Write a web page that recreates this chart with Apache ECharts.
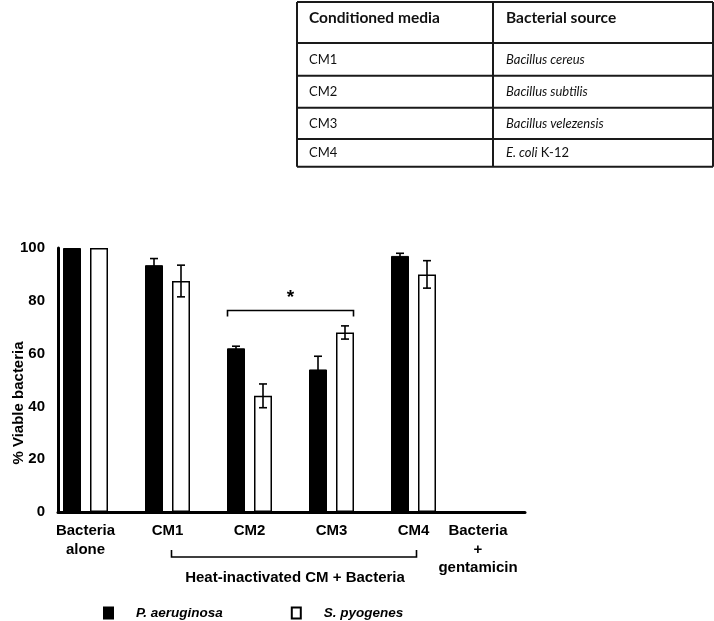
<!DOCTYPE html>
<html>
<head>
<meta charset="utf-8">
<script src="https://cdn.jsdelivr.net/npm/echarts@6/dist/echarts.min.js"></script>
<style>
  html, body { margin: 0; padding: 0; background: #fff; }
  #chart { width: 714px; height: 621px; }
</style>
</head>
<body>
<div id="chart"></div>
<script>
// data
const categories = ['Bacteria\nalone', 'CM1', 'CM2', 'CM3', 'CM4', 'Bacteria\n+\ngentamicin']
const seriesNames = ['P. aeruginosa', 'S. pyogenes']
const paMean = [100, 93.5, 62, 54, 97, 0]
const paErr = [0, 2.5, 0.8, 5, 1, 0]
const spMean = [100, 87.5, 44, 68, 90, 0]
const spErr = [0, 6, 4.5, 2.5, 5.2, 0]
const yTicks = [0, 20, 40, 60, 80, 100]

// significance between CM2 and CM3
const sigFrom = 2
const sigTo = 3
const sigLevel = 76.3
const sigMark = '*'

// table at the top
const tableHeader = ['Conditioned media', 'Bacterial source']
const cmNames = ['CM1', 'CM2', 'CM3', 'CM4']
const sources = ['Bacillus cereus', 'Bacillus subtilis', 'Bacillus velezensis', 'E. coli K-12']

const groupLabel = 'Heat-inactivated CM + Bacteria'

const FONT = "'Liberation Sans', Arial, sans-serif"
const TFONT = "Lato, 'Open Sans', sans-serif"

let chart = echarts.init(document.getElementById('chart'), null, {renderer: 'canvas'})

// table drawn with graphic elements
function buildTable() {
  const left = 297, right = 713, mid = 493
  const rows = [2, 43, 75.7, 107.7, 139, 166.7]
  const els = []
  const line = (x1, y1, x2, y2) => ({
    type: 'line', shape: {x1, y1, x2, y2},
    style: {stroke: '#1a1a1a', lineWidth: 2}
  })
  rows.forEach(y => els.push(line(left, y, right, y)))
  els.push(line(left, rows[0], left, rows[rows.length - 1]))
  els.push(line(right, rows[0], right, rows[rows.length - 1]))
  els.push(line(mid, rows[0], mid, rows[rows.length - 1]))

  els.push({type: 'text', x: 309, y: 18, style: {
    text: tableHeader[0], font: 'bold 15.5px ' + TFONT, fill: '#111', verticalAlign: 'middle'}})
  els.push({type: 'text', x: 506, y: 18, style: {
    text: tableHeader[1], font: 'bold 15.5px ' + TFONT, fill: '#111', verticalAlign: 'middle'}})

  cmNames.forEach((n, i) => {
    const cy = (rows[i + 1] + rows[i + 2]) / 2
    els.push({type: 'text', x: 309, y: cy, style: {
      text: n, font: '13px ' + TFONT, fill: '#111', verticalAlign: 'middle'}})
    let src = sources[i]
    let txt
    if (src.indexOf('K-12') >= 0) {
      txt = '{i|' + src.replace(' K-12', '') + '}{n| K-12}'
    } else {
      txt = '{i|' + src + '}'
    }
    const rich = {
      i: {fontFamily: TFONT, fontSize: 13, fontStyle: 'italic', fill: '#111'},
      n: {fontFamily: TFONT, fontSize: 13, fill: '#111'}
    }
    els.push({type: 'text', x: 506, y: cy, style: {
      text: txt, rich: rich, verticalAlign: 'middle'}})
  })
  return els
}

function errorSeries(name, means, errs, shift) {
  return {
    type: 'custom',
    name: name + ' err',
    xAxisIndex: 1,
    yAxisIndex: 1,
    z: 5,
    encode: {x: 0, y: 1},
    data: means.map((m, i) => [i, m, errs[i]]),
    renderItem: function (params, api) {
      const e = api.value(2)
      if (!e) return
      const i = api.value(0), m = api.value(1)
      const top = api.coord([i, m + e])
      const bot = api.coord([i, m - e])
      const x = top[0] + shift
      const st = {stroke: '#000', lineWidth: 1.6}
      return {
        type: 'group',
        children: [
          {type: 'line', shape: {x1: x, y1: top[1], x2: x, y2: bot[1]}, style: st},
          {type: 'line', shape: {x1: x - 4, y1: top[1], x2: x + 4, y2: top[1]}, style: st},
          {type: 'line', shape: {x1: x - 4, y1: bot[1], x2: x + 4, y2: bot[1]}, style: st}
        ]
      }
    }
  }
}

function initChart() {
  const option = {
    backgroundColor: '#fff',
    animation: false,
    graphic: buildTable(),
    legend: {
      data: seriesNames,
      left: 103,
      top: 606,
      padding: 0,
      icon: 'rect',
      itemWidth: 9,
      itemHeight: 11,
      itemGap: 68,
      textStyle: {
        fontFamily: FONT,
        fontWeight: 'bold',
        fontStyle: 'italic',
        fontSize: 13.5,
        color: '#000',
        padding: [0, 0, 0, 18]
      }
    },
    grid: [
      {left: 58, top: 248, width: 467, height: 264, outerBoundsMode: 'none'},
      {left: 44.5, top: 248, width: 492, height: 264, outerBoundsMode: 'none'}
    ],
    xAxis: [
      {
        gridIndex: 0, type: 'value', min: 0, max: 1,
        axisLine: {show: true, lineStyle: {color: '#000', width: 3}},
        axisTick: {show: false}, axisLabel: {show: false}, splitLine: {show: false}
      },
      {
        gridIndex: 1, type: 'category', data: categories,
        axisLine: {show: false}, axisTick: {show: false},
        axisLabel: {
          interval: 0,
          margin: 10,
          fontFamily: FONT, fontWeight: 'bold', fontSize: 15, color: '#000',
          lineHeight: 18.5,
          formatter: function (v, idx) {
            if (idx === categories.length - 1) {
              return v.split('\n').map(s => '{g|' + s + '}').join('\n')
            }
            return v
          },
          rich: {
            g: {fontFamily: FONT, fontWeight: 'bold', fontSize: 15, color: '#000',
              lineHeight: 18.5, padding: [0, 35, 0, 0]}
          }
        }
      }
    ],
    yAxis: [
      {
        gridIndex: 0, type: 'value', min: 0, max: 100, interval: 20,
        axisLine: {show: true, lineStyle: {color: '#000', width: 3}},
        axisTick: {show: false}, splitLine: {show: false},
        axisLabel: {fontFamily: FONT, fontWeight: 'bold', fontSize: 15, color: '#000', margin: 13,
          customValues: yTicks},
        name: '% Viable bacteria',
        nameLocation: 'middle',
        nameGap: 32,
        nameMoveOverlap: false,
        nameTextStyle: {fontFamily: FONT, fontWeight: 'bold', fontSize: 15, color: '#000',
          padding: [0, 46, 0, 0]}
      },
      {
        gridIndex: 1, type: 'value', min: 0, max: 100, show: false
      }
    ],
    series: [
      {
        name: seriesNames[0], type: 'bar', xAxisIndex: 1, yAxisIndex: 1,
        data: paMean, barWidth: 18, barGap: '50%',
        itemStyle: {color: '#000', borderColor: '#000', borderWidth: 1}
      },
      {
        name: seriesNames[1], type: 'bar', xAxisIndex: 1, yAxisIndex: 1,
        data: spMean, barWidth: 18, barGap: '50%',
        itemStyle: {color: '#fff', borderColor: '#000', borderWidth: 1.5}
      },
      errorSeries(seriesNames[0], paMean, paErr, -13.5),
      errorSeries(seriesNames[1], spMean, spErr, 13.5),
      {
        // significance bracket CM2 vs CM3
        type: 'custom', xAxisIndex: 1, yAxisIndex: 1, z: 6,
        encode: {x: 0, y: 1},
        data: [[sigFrom, sigLevel, sigTo]],
        renderItem: function (params, api) {
          const a = api.coord([api.value(0), api.value(1)])
          const b = api.coord([api.value(2), api.value(1)])
          const x1 = a[0] - 22, x2 = b[0] + 22, y = a[1]
          const st = {stroke: '#000', lineWidth: 1.6, fill: null}
          return {
            type: 'group',
            children: [
              {type: 'polyline', shape: {points: [[x1, y + 6], [x1, y], [x2, y], [x2, y + 6]]}, style: st},
              {type: 'text', x: (x1 + x2) / 2, y: y - 13, style: {
                text: sigMark, font: 'bold 19px ' + FONT, fill: '#000',
                align: 'center', verticalAlign: 'middle'}}
            ]
          }
        }
      },
      {
        // bracket under CM1..CM4
        type: 'custom', xAxisIndex: 1, yAxisIndex: 1, z: 6,
        encode: {x: 0, y: 1},
        data: [[1, 0, 4]],
        renderItem: function (params, api) {
          const a = api.coord([api.value(0), 0])
          const b = api.coord([api.value(2), 0])
          const x1 = a[0] + 4, x2 = b[0] + 3, y = a[1] + 45
          const st = {stroke: '#000', lineWidth: 1.6, fill: null}
          return {
            type: 'group',
            children: [
              {type: 'polyline', shape: {points: [[x1, y - 7], [x1, y], [x2, y], [x2, y - 7]]}, style: st},
              {type: 'text', x: (x1 + x2) / 2 + 1, y: y + 21, style: {
                text: groupLabel, font: 'bold 15px ' + FONT, fill: '#000',
                align: 'center', verticalAlign: 'middle'}}
            ]
          }
        }
      }
    ]
  }
  chart.setOption(option)
}

initChart()
</script>
</body>
</html>
